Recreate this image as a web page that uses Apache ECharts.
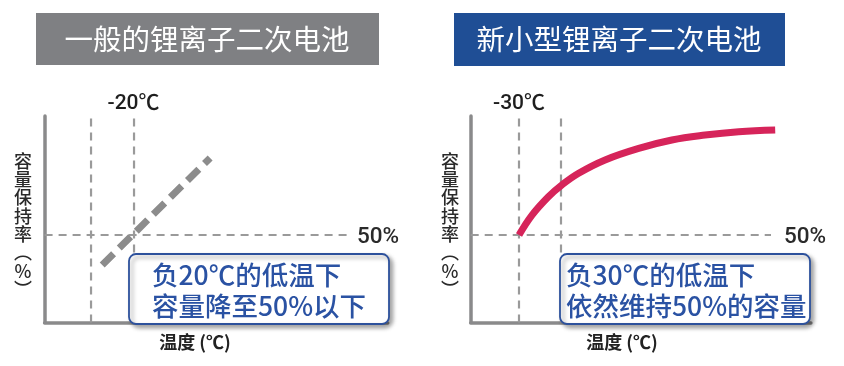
<!DOCTYPE html>
<html>
<head>
<meta charset="utf-8">
<script src="https://cdn.jsdelivr.net/npm/echarts@6/dist/echarts.min.js"></script>
<style>
html,body{margin:0;padding:0;background:#fff;}
#c{width:844px;height:366px;}
</style>
</head>
<body>
<div id="c"></div>
<script>
// ---- data ----
const titles = ['一般的锂离子二次电池', '新小型锂离子二次电池'];
const guideTemps = [-30, -20];          // vertical dashed guides (℃)
const halfLevel = 50;                   // 50% capacity level
const hLineEndTemp = 30;                // where the 50% dashed line stops
const yTop = 118;
const leftRange = [-40.8, 39];
const rightRange = [-41.5, 39.5];
// conventional battery: capacity vs temperature (dashed gray)
const convTemp = [-27.4, -2.3];
const convCap  = [32.9, 94];
// new battery: capacity vs temperature (red curve)
const newTemp = [-30, -26.9, -23.0, -19.8, -15.8, -9.5, -1.5, 6.4, 14.3, 22.3, 31.0];
const newCap  = [50, 61.4, 71.9, 78.6, 85.3, 92.9, 99.5, 104.3, 107.1, 109.0, 110.0];
const tempMarks = ['-20℃', '-30℃'];
const pctLabel = '50%';
const yAxisName = '容\n量\n保\n持\n率\n︵\n%\n︶';
const xAxisName = '温度 (℃)';
const notes = [['负20℃的低温下', '容量降至50%以下'], ['负30℃的低温下', '依然维持50%的容量']];

const zip = (a, b) => a.map((v, i) => [v, b[i]]);

const chart = echarts.init(document.getElementById('c'), null, {renderer: 'canvas'});

const axisLineStyle = {color: '#8a8a8b', width: 3.5};
function xAx(idx, range) {
  return {gridIndex: idx, type: 'value', min: range[0], max: range[1],
    axisLine: {show: true, onZero: false, lineStyle: axisLineStyle},
    axisTick: {show: false}, axisLabel: {show: false}, splitLine: {show: false}};
}
function yAx(idx) {
  return {gridIndex: idx, type: 'value', min: 0, max: yTop,
    axisLine: {show: true, onZero: false, lineStyle: axisLineStyle},
    axisTick: {show: false}, axisLabel: {show: false}, splitLine: {show: false}};
}
const guideStyle = {color: '#9a9a9a', width: 2.2, type: [8, 6]};
function guides(idx, range) {
  const s = [];
  guideTemps.forEach(t => {
    s.push({type: 'line', xAxisIndex: idx, yAxisIndex: idx, data: [[t, 0], [t, yTop]],
      symbol: 'none', lineStyle: guideStyle, silent: true, z: 1});
  });
  s.push({type: 'line', xAxisIndex: idx, yAxisIndex: idx,
    data: [[range[0], halfLevel], [hLineEndTemp, halfLevel]],
    symbol: 'none', lineStyle: guideStyle, silent: true, z: 1});
  return s;
}

const series = [].concat(
  guides(0, leftRange),
  guides(1, rightRange),
  [{type: 'line', xAxisIndex: 0, yAxisIndex: 0, data: zip(convTemp, convCap), symbol: 'none',
    lineStyle: {color: '#8c8c8c', width: 7, type: [16, 8]}, z: 3},
   {type: 'line', xAxisIndex: 1, yAxisIndex: 1, data: zip(newTemp, newCap), symbol: 'none', smooth: 0.4,
    lineStyle: {color: '#d6245a', width: 7, cap: 'butt'}, z: 3}]
);

const cjk = '"Noto Sans CJK SC", "Noto Sans", sans-serif';
const lat = 'Roboto, "Noto Sans CJK SC", sans-serif';

function noteBox(x, y, w, h, lines, pad) {
  return [
    {type: 'rect', z: 100, shape: {x: x, y: y, width: w, height: h, r: 7},
     style: {fill: '#fff', stroke: '#2d519c', lineWidth: 1.8,
       shadowBlur: 4, shadowOffsetX: 3, shadowOffsetY: 3, shadowColor: 'rgba(0,0,0,0.35)'}},
    {type: 'text', z: 101, x: x + pad, y: y + 21,
     style: {text: lines[0], fill: '#2a52a3', font: '500 26.5px ' + cjk, verticalAlign: 'middle'}},
    {type: 'text', z: 101, x: x + pad, y: y + 52,
     style: {text: lines[1], fill: '#2a52a3', font: '500 26.5px ' + cjk, verticalAlign: 'middle'}}
  ];
}

const graphic = [].concat(
  [
    {type: 'rect', z: 100, shape: {x: 36, y: 13, width: 343, height: 52}, style: {fill: '#7f8083'}},
    {type: 'text', z: 101, x: 207, y: 39, style: {text: titles[0], fill: '#fff', font: '28.5px ' + cjk, align: 'center', verticalAlign: 'middle'}},
    {type: 'rect', z: 100, shape: {x: 454, y: 13, width: 331, height: 53}, style: {fill: '#1f4e95'}},
    {type: 'text', z: 101, x: 619, y: 39, style: {text: titles[1], fill: '#fff', font: '28.5px ' + cjk, align: 'center', verticalAlign: 'middle'}},
    {type: 'text', z: 101, x: 133.5, y: 104, style: {text: tempMarks[0], fill: '#1e1e1e', font: '500 21px ' + lat, align: 'center', verticalAlign: 'middle'}},
    {type: 'text', z: 101, x: 519, y: 104, style: {text: tempMarks[1], fill: '#1e1e1e', font: '500 21px ' + lat, align: 'center', verticalAlign: 'middle'}},
    {type: 'text', z: 101, x: 357, y: 237, style: {text: pctLabel, fill: '#2a2a2a', font: '500 22.5px ' + lat, verticalAlign: 'middle'}},
    {type: 'text', z: 101, x: 784, y: 237, style: {text: pctLabel, fill: '#2a2a2a', font: '500 22.5px ' + lat, verticalAlign: 'middle'}},
    {type: 'text', z: 101, x: 23, y: 225, style: {text: yAxisName, fill: '#2a2a2a', font: '500 18px ' + cjk, lineHeight: 18.3, align: 'center', verticalAlign: 'middle'}},
    {type: 'text', z: 101, x: 450, y: 225, style: {text: yAxisName, fill: '#2a2a2a', font: '500 18px ' + cjk, lineHeight: 18.3, align: 'center', verticalAlign: 'middle'}},
    {type: 'text', z: 101, x: 195, y: 342, style: {text: xAxisName, fill: '#222', font: 'bold 18px ' + cjk, align: 'center', verticalAlign: 'middle'}},
    {type: 'text', z: 101, x: 622, y: 342, style: {text: xAxisName, fill: '#222', font: 'bold 18px ' + cjk, align: 'center', verticalAlign: 'middle'}}
  ],
  noteBox(129, 254, 260, 70, notes[0], 23),
  noteBox(560, 254, 250, 70, notes[1], 6)
);

chart.setOption({
  animation: false,
  backgroundColor: '#fff',
  grid: [
    {left: 44.6, top: 116, width: 343.1, height: 206.5},
    {left: 470.7, top: 116, width: 340.2, height: 206.5}
  ],
  xAxis: [xAx(0, leftRange), xAx(1, rightRange)],
  yAxis: [yAx(0), yAx(1)],
  series: series,
  graphic: graphic
});
</script>
</body>
</html>
